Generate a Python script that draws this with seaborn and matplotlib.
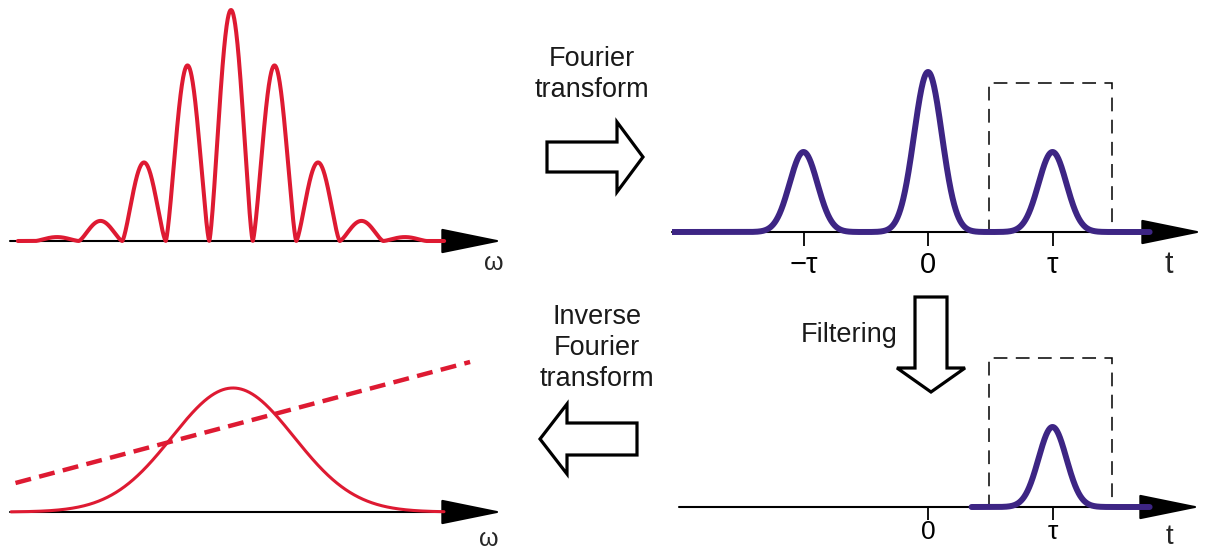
import numpy as np
import matplotlib.pyplot as plt
from matplotlib.patches import FancyArrow, Rectangle
import seaborn as sns

# --- values ---
# spectral fringes: peak order (fringe periods) and height (relative to central fringe)
fringe_order = [-4, -3, -2, -1, 0, 1, 2, 3, 4]
fringe_height = [0.017, 0.087, 0.34, 0.76, 1.0, 0.76, 0.34, 0.087, 0.017]
fringe_shape = 1.4  # lobe sharpness, gives fringe FWHM ~0.58 period

# time domain pulses (t in units of tau)
pulse_delay = [-1, 0, 1]
pulse_height = [0.5, 1.0, 0.5]
pulse_sigma = 0.112

# filter window around +tau
window_t = [0.49, 1.48]
window_top = 0.93
filtered_delay = 1
filtered_height = 0.5

# recovered spectrum: amplitude (gaussian) and linear spectral phase
amp_height = 1.0
amp_sigma = 1.4
phase_omega = [-5.0, 5.45]
phase_value = [0.234, 1.21]

tick_pos_top = [-1, 0, 1]
tick_lab_top = ["\u2212\u03c4", "0", "\u03c4"]
tick_pos_bot = [0, 1]
tick_lab_bot = ["0", "\u03c4"]

RED = "#DE1A32"
PURPLE = "#3D2584"
W, H = 1206, 551

sns.set_style("white")
plt.rcParams["font.family"] = ["Liberation Sans", "DejaVu Sans"]

fig = plt.figure(figsize=(W / 100, H / 100), dpi=100)


def panel(left, right, top, bottom, x0, y0, sx, sy):
    # axes placed by pixel box, origin of the data at pixel (x0, y0)
    ax = fig.add_axes([left / W, 1 - bottom / H, (right - left) / W, (bottom - top) / H])
    ax.set_xlim((left - x0) / sx, (right - x0) / sx)
    ax.set_ylim((y0 - bottom) / sy, (y0 - top) / sy)
    ax.patch.set_alpha(0)
    for s in ax.spines.values():
        s.set_visible(False)
    ax.set_xticks([])
    ax.set_yticks([])
    ax.annotate("", xy=(1, 0), xytext=(0, 0),
                xycoords=("axes fraction", "data"), textcoords=("axes fraction", "data"),
                arrowprops=dict(arrowstyle="-|>,head_length=2.45,head_width=0.5",
                                mutation_scale=16, color="black", lw=1.5,
                                shrinkA=0, shrinkB=0))
    return ax


def time_ticks(ax, pos, labels, size, pad, length):
    ax.spines["bottom"].set_position(("data", 0))
    ax.set_xticks(pos, labels)
    ax.tick_params(axis="x", bottom=True, direction="out", length=length, width=1.3,
                   pad=pad, labelsize=size, colors="black")


# --- top left: spectral interference ---
ax1 = panel(10, 502, 0, 280, 231, 241, 43.5, 231)
w = np.linspace(-4.9, 4.9, 2000)
spec = np.zeros_like(w)
for k, h in zip(fringe_order, fringe_height):
    m = np.abs(w - k) <= 0.5
    spec[m] += h * np.abs(np.cos(np.pi * (w[m] - k))) ** fringe_shape
sns.lineplot(x=w, y=spec, ax=ax1, color=RED, linewidth=2.9, zorder=4)

# --- top right: time domain ---
ax2 = panel(672, 1202, 40, 290, 928, 232, 124.5, 160)
t = np.linspace(ax2.get_xlim()[0], 1.78, 2000)
sig = np.zeros_like(t)
for d, h in zip(pulse_delay, pulse_height):
    sig += h * np.exp(-(t - d) ** 2 / (2 * pulse_sigma ** 2))
sns.lineplot(x=t, y=sig, ax=ax2, color=PURPLE, linewidth=4.3, zorder=4)
ax2.add_patch(Rectangle((window_t[0], 0), window_t[1] - window_t[0], window_top,
                        fill=False, ec="black", lw=1.1, ls=(0, (9, 5.5)), zorder=2))
time_ticks(ax2, tick_pos_top, tick_lab_top, 21, 4, 10)

# --- bottom right: filtered ---
ax3 = panel(679, 1200, 300, 551, 928, 507, 124.5, 160)
tf = np.linspace(0.35, 1.78, 1000)
filt = filtered_height * np.exp(-(tf - filtered_delay) ** 2 / (2 * pulse_sigma ** 2))
sns.lineplot(x=tf, y=filt, ax=ax3, color=PURPLE, linewidth=4.3, zorder=4)
ax3.add_patch(Rectangle((window_t[0], 0), window_t[1] - window_t[0], window_top,
                        fill=False, ec="black", lw=1.1, ls=(0, (9, 5.5)), zorder=2))
time_ticks(ax3, tick_pos_bot, tick_lab_bot, 19, 0.5, 9)

# --- bottom left: amplitude and phase ---
ax4 = panel(10, 502, 330, 551, 233, 512, 43.5, 124)
wa = np.linspace(-5.1, 4.85, 1000)
amp = amp_height * np.exp(-wa ** 2 / (2 * amp_sigma ** 2))
sns.lineplot(x=wa, y=amp, ax=ax4, color=RED, linewidth=2.2, zorder=4)
sns.lineplot(x=phase_omega, y=phase_value, ax=ax4, color=RED, linewidth=3.2, zorder=4)
ax4.lines[-1].set_dashes((3.6, 1.9))
ax4.lines[-1].set_dash_capstyle("butt")

# --- overlay: block arrows and captions (pixel coordinates) ---
ov = fig.add_axes([0, 0, 1, 1])
ov.set_xlim(0, W)
ov.set_ylim(H, 0)
ov.set_axis_off()
arrow_kw = dict(length_includes_head=True, fc="white", ec="black", lw=2.3, joinstyle="miter")
ov.add_patch(FancyArrow(547, 157, 96, 0, width=30, head_width=70, head_length=26, **arrow_kw))
ov.add_patch(FancyArrow(637, 439, -97, 0, width=32, head_width=70, head_length=27, **arrow_kw))
ov.add_patch(FancyArrow(931, 297, 0, 95, width=32, head_width=68, head_length=24, **arrow_kw))

txt_kw = dict(ha="center", va="top", fontsize=19.5, color="#1a1a1a", linespacing=1.25)
ov.text(592, 46, "Fourier\ntransform", **txt_kw)
ov.text(597, 304, "Inverse\nFourier\ntransform", **txt_kw)
ov.text(849, 322, "Filtering", **txt_kw)

ov.text(494, 270, "\u03c9", ha="center", va="baseline", fontsize=18)
ov.text(489, 546, "\u03c9", ha="center", va="baseline", fontsize=18)
ov.text(1169, 273, "t", ha="center", va="baseline", fontsize=22)
ov.text(1169, 544, "t", ha="center", va="baseline", fontsize=20)

fig.savefig("out.png", dpi=100)
